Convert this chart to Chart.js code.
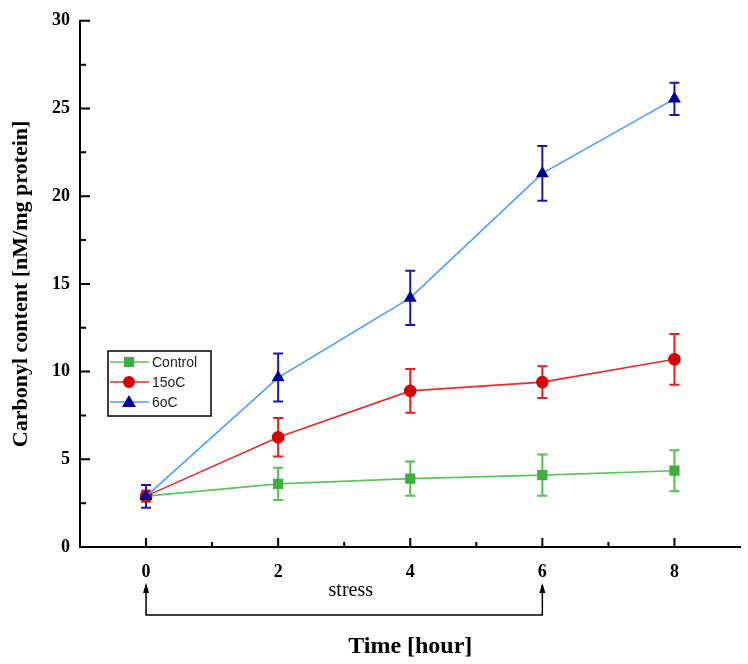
<!DOCTYPE html>
<html>
<head>
<meta charset="utf-8">
<script src="https://cdn.jsdelivr.net/npm/chart.js@4/dist/chart.umd.min.js"></script>
<style>
html,body{margin:0;padding:0;background:#fff;}
#wrap{width:748px;height:664px;position:relative;}
</style>
</head>
<body>
<div id="wrap"><canvas id="c" width="748" height="664"></canvas></div>
<script>
// ---- data ----
const hours = [0, 2, 4, 6, 8];
const seriesLabels = ["Control", "15oC", "6oC"];
const controlVals = [2.9, 3.6, 3.9, 4.1, 4.35];
const controlErr  = [0.3, 0.92, 0.98, 1.18, 1.17];
const c15Vals     = [2.9, 6.26, 8.9, 9.4, 10.7];
const c15Err      = [0.3, 1.1, 1.25, 0.9, 1.45];
const c6Vals      = [2.89, 9.66, 14.2, 21.3, 25.55];
const c6Err       = [0.65, 1.37, 1.55, 1.56, 0.92];
const xTickLabels = ["0", "2", "4", "6", "8"];
const yTickValues = [0, 5, 10, 15, 20, 25, 30];
const stressStart = 0, stressEnd = 6, stressLabelPos = 3.1;
const stressLabel = "stress";

const serif = "'Liberation Serif','Times New Roman',serif";
const sans = "'Liberation Sans',Arial,sans-serif";

function pts(vals){ return hours.map((h,i)=>({x:h,y:vals[i]})); }

const styles = [
  {line:'#5cc45c', mark:'#3fae3f', err:'#52bf52', shape:'rect', r:7.2, lr:5},
  {line:'#e82c2c', mark:'#d40000', err:'#e02020', shape:'circle', r:6.3, lr:6},
  {line:'#4d9fff', mark:'#000099', err:'#1a1aa8', shape:'triangle', r:7.5, lr:7}
];
const errs = [controlErr, c15Err, c6Err];

const errorBars = {
  id:'errorBars',
  beforeDatasetsDraw(chart){
    const {ctx, scales:{x,y}} = chart;
    ctx.save();
    chart.data.datasets.forEach((ds,di)=>{
      const e = errs[di];
      ctx.strokeStyle = styles[di].err;
      ctx.lineWidth = 2;
      ds.data.forEach((p,i)=>{
        const px = x.getPixelForValue(p.x);
        const top = y.getPixelForValue(p.y + e[i]);
        const bot = y.getPixelForValue(p.y - e[i]);
        ctx.beginPath();
        ctx.moveTo(px, top); ctx.lineTo(px, bot);
        ctx.moveTo(px-5, top); ctx.lineTo(px+5, top);
        ctx.moveTo(px-5, bot); ctx.lineTo(px+5, bot);
        ctx.stroke();
      });
    });
    ctx.restore();
  }
};

function drawMarker(ctx, shape, cx, cy, r, color){
  ctx.fillStyle = color;
  ctx.beginPath();
  if(shape==='rect'){ ctx.rect(cx-r, cy-r, 2*r, 2*r); }
  else if(shape==='circle'){ ctx.arc(cx, cy, r, 0, Math.PI*2); }
  else { ctx.moveTo(cx, cy-r); ctx.lineTo(cx+r, cy+r*0.7); ctx.lineTo(cx-r, cy+r*0.7); ctx.closePath(); }
  ctx.fill();
}

const extras = {
  id:'extras',
  afterDraw(chart){
    const {ctx, scales:{x,y}, chartArea:a} = chart;
    ctx.save();
    // inward ticks
    ctx.strokeStyle = '#000'; ctx.lineWidth = 2;
    ctx.beginPath();
    for(let v=0; v<=8; v++){
      const px = x.getPixelForValue(v);
      const len = (v%2===0) ? 9 : 5;
      ctx.moveTo(px, a.bottom); ctx.lineTo(px, a.bottom-len);
    }
    for(let v=0; v<=30; v+=2.5){
      const py = y.getPixelForValue(v);
      const len = (v%5===0) ? 10 : 6;
      ctx.moveTo(a.left, py); ctx.lineTo(a.left+len, py);
    }
    ctx.stroke();
    // stress bracket
    const x0 = x.getPixelForValue(stressStart), x1 = x.getPixelForValue(stressEnd);
    const yTop = a.bottom + 38, yBot = a.bottom + 68;
    ctx.lineWidth = 1.5;
    ctx.beginPath();
    ctx.moveTo(x0, yTop); ctx.lineTo(x0, yBot); ctx.lineTo(x1, yBot); ctx.lineTo(x1, yTop);
    ctx.stroke();
    ctx.fillStyle = '#000';
    [x0,x1].forEach(px=>{
      ctx.beginPath();
      ctx.moveTo(px, yTop-2); ctx.lineTo(px+3, yTop+8); ctx.lineTo(px-3, yTop+8); ctx.closePath();
      ctx.fill();
    });
    ctx.font = "20px " + serif;
    ctx.textAlign = 'center'; ctx.textBaseline = 'middle';
    ctx.fillText(stressLabel, x.getPixelForValue(stressLabelPos), a.bottom + 44);
    // legend
    const lx = 108, ly = 351, lw = 103, lh = 65;
    ctx.lineWidth = 1.5; ctx.strokeStyle = '#000';
    ctx.strokeRect(lx, ly, lw, lh);
    ctx.font = "14px " + sans;
    ctx.textAlign = 'left';
    chart.data.datasets.forEach((ds,di)=>{
      const ry = ly + 11 + di*20;
      ctx.strokeStyle = styles[di].line; ctx.lineWidth = 1.5;
      ctx.beginPath(); ctx.moveTo(lx+2, ry); ctx.lineTo(lx+41, ry); ctx.stroke();
      drawMarker(ctx, styles[di].shape, lx+21, ry, styles[di].lr, styles[di].mark);
      ctx.fillStyle = '#222';
      ctx.fillText(ds.label, lx+44, ry+1);
    });
    ctx.restore();
  }
};

const datasets = [controlVals, c15Vals, c6Vals].map((vals,di)=>({
  label: seriesLabels[di],
  data: pts(vals),
  borderColor: styles[di].line,
  backgroundColor: styles[di].mark,
  pointBackgroundColor: styles[di].mark,
  pointBorderColor: styles[di].mark,
  pointBorderWidth: 0,
  pointStyle: styles[di].shape,
  pointRadius: styles[di].r,
  borderWidth: 1.6,
  tension: 0,
  order: 2 - di
}));

new Chart(document.getElementById('c'), {
  type: 'line',
  data: { datasets },
  options: {
    responsive: false,
    animation: false,
    devicePixelRatio: 1,
    layout: { padding: { left: 0, right: 5, top: 18, bottom: 0 } },
    plugins: { legend: { display: false }, tooltip: { enabled: false } },
    scales: {
      x: {
        type: 'linear', min: -1, max: 9,
        afterFit(s){ s.height = 117; },
        afterBuildTicks(s){ s.ticks = hours.map(v=>({value:v})); },
        border: { display: true, color: '#000', width: 2 },
        grid: { display: false, drawTicks: false },
        ticks: {
          padding: 15, color: '#000',
          font: { family: serif, size: 18, weight: 'bold' },
          callback: (v)=> { const i = hours.indexOf(v); return i>=0 ? xTickLabels[i] : ''; }
        },
        title: {
          display: true, text: 'Time [hour]', color: '#000',
          font: { family: serif, size: 24, weight: 'bold' },
          padding: { top: 0, bottom: 3 }
        }
      },
      y: {
        type: 'linear', min: 0, max: 30,
        afterFit(s){ s.width = 80; },
        afterBuildTicks(s){ s.ticks = yTickValues.map(v=>({value:v})); },
        border: { display: true, color: '#000', width: 2 },
        grid: { display: false, drawTicks: false },
        ticks: {
          padding: 10, color: '#000',
          font: { family: serif, size: 18, weight: 'bold' }
        },
        title: {
          display: true, text: 'Carbonyl content [nM/mg protein]', color: '#000',
          font: { family: serif, size: 22, weight: 'bold' },
          padding: { top: 8, bottom: 0 }
        }
      }
    }
  },
  plugins: [errorBars, extras]
});
</script>
</body>
</html>
